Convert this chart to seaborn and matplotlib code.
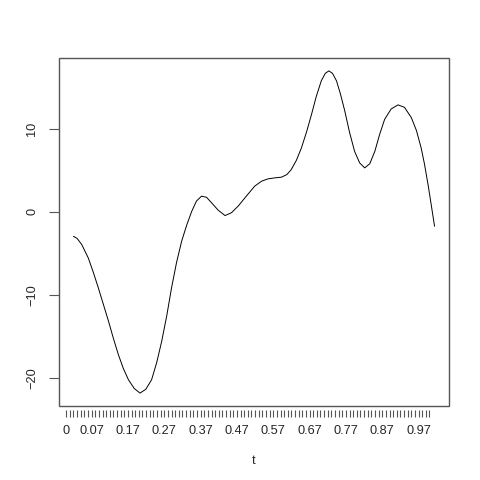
import numpy as np
import pandas as pd
import seaborn as sns
import matplotlib.pyplot as plt
from matplotlib.patches import Rectangle

# curve (position along the series, value)
pos = [0.000, 0.010, 0.023, 0.041, 0.055, 0.069, 0.083, 0.097, 0.110, 0.124, 0.138,
       0.152, 0.168, 0.184, 0.200, 0.216, 0.230, 0.244, 0.258, 0.271, 0.285, 0.299,
       0.313, 0.327, 0.340, 0.354, 0.368, 0.382, 0.400, 0.419, 0.437, 0.455, 0.478,
       0.501, 0.520, 0.538, 0.557, 0.575, 0.590, 0.602, 0.616, 0.630, 0.644, 0.658,
       0.671, 0.685, 0.696, 0.706, 0.716, 0.727, 0.738, 0.750, 0.763, 0.777, 0.791,
       0.805, 0.819, 0.833, 0.846, 0.860, 0.878, 0.897, 0.915, 0.934, 0.948, 0.961,
       0.970, 0.980, 0.989, 0.998]
val = [-2.95, -3.2, -3.95, -5.56, -7.3, -9.2, -11.2, -13.2, -15.2, -17.2, -18.9,
       -20.25, -21.3, -21.86, -21.4, -20.25, -18.2, -15.6, -12.5, -9.2, -6.1, -3.55,
       -1.6, 0.07, 1.3, 1.89, 1.75, 1.08, 0.2, -0.45, -0.1, 0.68, 1.9,
       3.1, 3.7, 3.98, 4.1, 4.18, 4.5, 5.1, 6.2, 7.7, 9.6, 11.75,
       13.9, 15.8, 16.7, 17.0, 16.7, 15.8, 14.2, 12.15, 9.6, 7.3, 5.9,
       5.3, 5.8, 7.3, 9.3, 11.15, 12.4, 12.9, 12.6, 11.35, 9.8, 7.7,
       5.8, 3.3, 0.8, -1.74]

t_values = [k / 100 for k in range(101)]
labelled = [0, 7, 17, 27, 37, 47, 57, 67, 77, 87, 97]

df = pd.DataFrame({"pos": pos, "y": val})

sns.set_style("white")
plt.rcParams["font.family"] = ["Liberation Sans", "DejaVu Sans"]
fs = 9.2

fig = plt.figure(figsize=(4.8, 4.8), dpi=100)
ax = fig.add_axes([0.1229, 0.1542, 0.8125, 0.7250])

sns.lineplot(data=df, x="pos", y="y", sort=False, color="black", linewidth=0.7, ax=ax)
ax.margins(x=0.04, y=0.04)

for s in ax.spines.values():
    s.set_visible(False)
ax.add_patch(Rectangle((0, 0), 1, 1, transform=ax.transAxes, fill=False,
                       edgecolor="#555555", linewidth=1.0, clip_on=False))

# x axis: a tick per t value, label only where R had room
tick_pos = np.linspace(-0.02, 0.984, len(t_values))
ax.set_xticks(tick_pos, minor=True)
ax.set_xticks(tick_pos[labelled])
ax.set_xticklabels([f"{t_values[i]:g}" for i in labelled])
ax.spines["bottom"].set_position(("outward", 3))
ax.tick_params(axis="x", which="both", direction="out", length=5, width=0.8,
               color="#555555", bottom=True, pad=6, labelsize=fs)

ax.set_yticks([-20, -10, 0, 10])
ax.tick_params(axis="y", direction="out", length=7, width=0.8, color="#555555",
               left=True, pad=8, labelsize=fs)
for lab in ax.get_yticklabels():
    lab.set_rotation(90)
    lab.set_va("center")

ax.set_xlabel("t", labelpad=13, fontsize=fs)
ax.set_ylabel("")

fig.savefig("out.png", dpi=100)
